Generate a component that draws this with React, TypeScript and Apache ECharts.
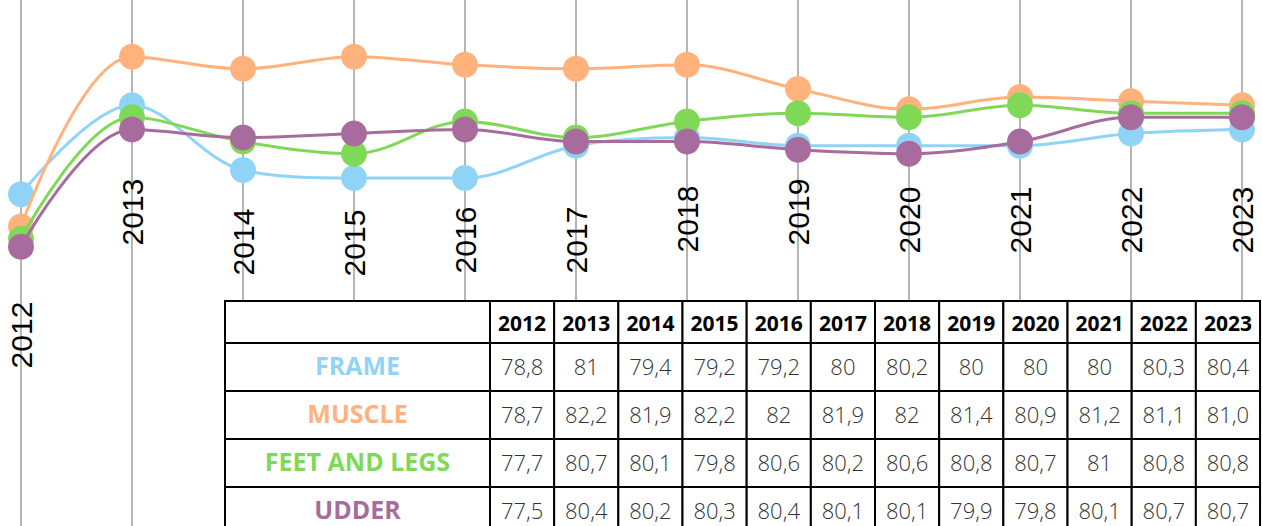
import React, { useEffect, useRef } from "react";
import * as echarts from "echarts";

// ---- data ----
const YEARS = ["2012", "2013", "2014", "2015", "2016", "2017", "2018", "2019", "2020", "2021", "2022", "2023"];
const SERIES_NAMES = ["FRAME", "MUSCLE", "FEET AND LEGS", "UDDER"];
// plotted values (as drawn in the picture)
const FRAME = [78.8, 81, 79.4, 79.2, 79.2, 80, 80.2, 80, 80, 80, 80.3, 80.4];
const MUSCLE = [78.0, 82.2, 81.9, 82.2, 82, 81.9, 82, 81.4, 80.9, 81.2, 81.1, 81.0];
const FEET = [77.7, 80.7, 80.1, 79.8, 80.6, 80.2, 80.6, 80.8, 80.7, 81, 80.8, 80.8];
const UDDER = [77.5, 80.4, 80.2, 80.3, 80.4, 80.1, 80.1, 79.9, 79.8, 80.1, 80.7, 80.7];
// table texts
const FRAME_TXT = ["78,8", "81", "79,4", "79,2", "79,2", "80", "80,2", "80", "80", "80", "80,3", "80,4"];
const MUSCLE_TXT = ["78,7", "82,2", "81,9", "82,2", "82", "81,9", "82", "81,4", "80,9", "81,2", "81,1", "81,0"];
const FEET_TXT = ["77,7", "80,7", "80,1", "79,8", "80,6", "80,2", "80,6", "80,8", "80,7", "81", "80,8", "80,8"];
const UDDER_TXT = ["77,5", "80,4", "80,2", "80,3", "80,4", "80,1", "80,1", "79,9", "79,8", "80,1", "80,7", "80,7"];

// ---- layout / style ----
const COLORS = ["#8fd4f6", "#ffb27b", "#7fd957", "#a76b9d"];
const YEAR_LABEL_CY = [335, 212, 242, 243, 240, 240, 219, 212, 220, 220, 220, 220];
const TABLE = { left: 225, top: 301, labelW: 265, colW: 64.17, headH: 42, rowH: 48 };

export default function App() {
  const ref = useRef<HTMLDivElement>(null);
  useEffect(() => {
    if (!ref.current) return;
    const chart = echarts.init(ref.current, undefined, { renderer: "svg" });
    const values = [FRAME, MUSCLE, FEET, UDDER];
    chart.setOption({
      animation: false,
      backgroundColor: "#ffffff",
      grid: { left: 21, right: 20, top: 0, bottom: 0 },
      xAxis: {
        type: "category",
        data: YEARS,
        boundaryGap: false,
        axisLine: { show: false },
        axisTick: { show: false },
        axisLabel: { show: false },
        splitLine: { show: true, lineStyle: { color: "#b5b5b5", width: 2 } },
      },
      yAxis: { type: "value", min: 70.6, max: 83.6, show: false, splitLine: { show: false } },
      series: SERIES_NAMES.map((n, i) => ({
        name: n,
        type: "line",
        data: values[i],
        smooth: 0.35,
        symbol: "circle",
        symbolSize: 26,
        lineStyle: { color: COLORS[i], width: 3 },
        itemStyle: { color: COLORS[i] },
        z: 3 + i,
      })),
    });

    const graphics: any[] = [];
    YEARS.forEach((y, i) => {
      const px = chart.convertToPixel({ xAxisIndex: 0 }, y) as number;
      graphics.push({
        type: "text",
        x: px,
        y: YEAR_LABEL_CY[i],
        rotation: Math.PI / 2,
        z: 50,
        style: {
          text: y,
          fill: "#000",
          font: '30px "Liberation Sans", Arial, sans-serif',
          align: "center",
          verticalAlign: "middle",
        },
      });
    });

    const T = TABLE;
    const txts = [FRAME_TXT, MUSCLE_TXT, FEET_TXT, UDDER_TXT];
    const stroke = { stroke: "#000", lineWidth: 2, fill: "#fff" };
    // header row
    graphics.push({ type: "rect", z: 100, shape: { x: T.left, y: T.top, width: T.labelW, height: T.headH }, style: stroke });
    YEARS.forEach((y, j) => {
      const x = T.left + T.labelW + j * T.colW;
      graphics.push({ type: "rect", z: 100, shape: { x, y: T.top, width: T.colW, height: T.headH }, style: stroke });
      graphics.push({
        type: "text", z: 101, x: x + T.colW / 2, y: T.top + T.headH / 2 + 1,
        style: { text: y, fill: "#000", font: 'bold 21px "Open Sans", sans-serif', align: "center", verticalAlign: "middle" },
      });
    });
    SERIES_NAMES.forEach((n, i) => {
      const top = T.top + T.headH + i * T.rowH;
      graphics.push({ type: "rect", z: 100, shape: { x: T.left, y: top, width: T.labelW, height: T.rowH }, style: stroke });
      graphics.push({
        type: "text", z: 101, x: T.left + T.labelW / 2, y: top + T.rowH / 2 - 2,
        style: { text: n, fill: COLORS[i], font: 'bold 25px "Open Sans", sans-serif', align: "center", verticalAlign: "middle" },
      });
      txts[i].forEach((v, j) => {
        const x = T.left + T.labelW + j * T.colW;
        graphics.push({ type: "rect", z: 100, shape: { x, y: top, width: T.colW, height: T.rowH }, style: stroke });
        graphics.push({
          type: "text", z: 101, x: x + T.colW / 2, y: top + T.rowH / 2 - 1,
          style: { text: v, fill: "#333", font: '300 22px "Open Sans", sans-serif', align: "center", verticalAlign: "middle" },
        });
      });
    });
    chart.setOption({ graphic: { elements: graphics } });
    return () => chart.dispose();
  }, []);
  return <div ref={ref} style={{ position: "absolute", left: 0, top: 0, width: 1262, height: 526 }} />;
}
